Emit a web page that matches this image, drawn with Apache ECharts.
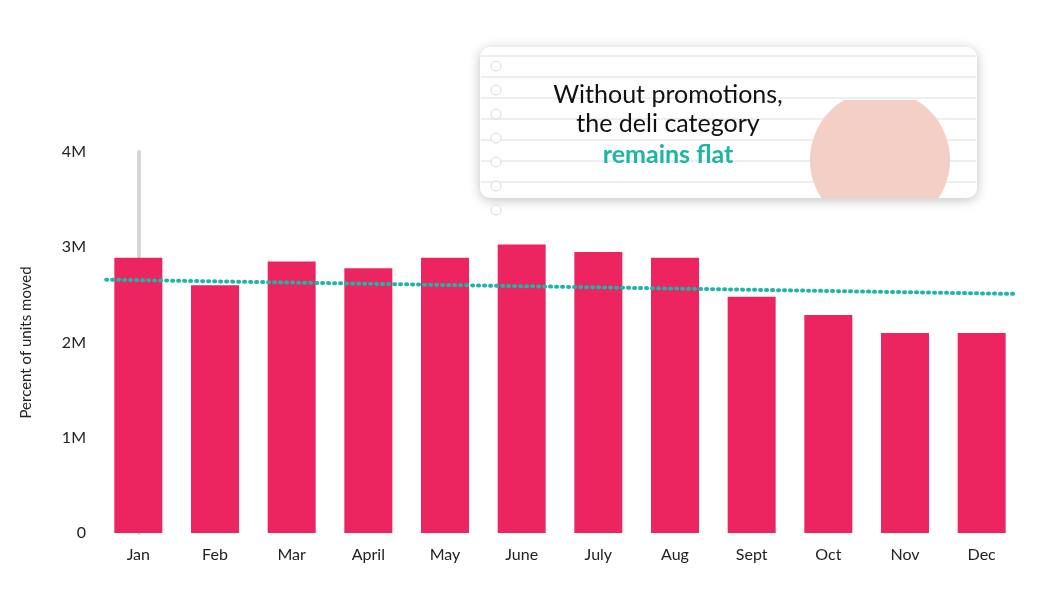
<!DOCTYPE html>
<html><head><meta charset="utf-8">
<script src="https://cdn.jsdelivr.net/npm/echarts@6/dist/echarts.min.js"></script>
<style>html,body{margin:0;background:#fff}#c{width:1054px;height:604px}</style>
</head><body><div id="c"></div>
<script>
var months = ['Jan','Feb','Mar','April','May','June','July','Aug','Sept','Oct','Nov','Dec'];
var units = [2.89,2.60,2.85,2.78,2.89,3.03,2.95,2.89,2.48,2.29,2.10,2.10];
var trend = [[-0.42,2.66],[11.45,2.51]];
var yTicks = ['0','1M','2M','3M','4M'];

var myChart = echarts.init(document.getElementById('c'));
var lines = [];
for (var i = 0; i < 7; i++) {
    lines.push({type:'line', shape:{x1:481,y1:56+i*21,x2:976,y2:56+i*21}, style:{stroke:'#e6e9ee',lineWidth:1.5}, z:101});
    lines.push({type:'circle', shape:{cx:496,cy:66+i*24,r:5}, style:{fill:'#fff',stroke:'#dcdcdc',lineWidth:1}, z:102});
}
var option = {
    backgroundColor:'#fff',
    textStyle:{fontFamily:'Lato'},
    grid:{left:100,right:34,top:152,bottom:71},
    xAxis:[{
        type:'category', data:months,
        axisLine:{show:false}, axisTick:{show:false},
        axisLabel:{color:'#222',fontSize:16,margin:14}
    },{
        type:'value', min:-0.5, max:11.5, show:false
    }],
    yAxis:{
        type:'value', min:0, max:4, interval:1,
        name:'Percent of units moved', nameLocation:'middle', nameGap:66,
        nameTextStyle:{color:'#222',fontSize:15},
        axisLine:{show:true,lineStyle:{color:'#d6d6d6',width:4}},
        axisTick:{show:false}, splitLine:{show:false},
        axisLabel:{color:'#222',fontSize:16,margin:14,formatter:function(v){return yTicks[v];}}
    },
    series:[{
        type:'bar', data:units, barWidth:48,
        itemStyle:{color:'#ec2560'}
    },{
        type:'line', xAxisIndex:1, data:trend, symbol:'none',
        lineStyle:{color:'#1db5a5',width:4,type:[1,5],cap:'round'}
    }],
    graphic:[{
        type:'rect', shape:{x:480,y:47,width:497,height:151,r:10},
        style:{fill:'#fff',shadowBlur:12,shadowColor:'rgba(0,0,0,0.25)',shadowOffsetY:2}, z:100
    }].concat(lines).concat([
        {type:'circle', shape:{cx:880,cy:160,r:70}, style:{fill:'#f3cfc6'}, z:103, clipPath:{type:'rect',shape:{x:780,y:100,width:197,height:98}}},
        {type:'text', style:{x:668,y:80,text:'Without promotions,\nthe deli category',fill:'#111',font:'25px Lato',textAlign:'center',lineHeight:29}, z:110},
        {type:'text', style:{x:668,y:142,text:'remains flat',fill:'#1db5a5',font:'bold 25px Lato',textAlign:'center'}, z:110}
    ])
};
myChart.setOption(option);
</script></body></html>
